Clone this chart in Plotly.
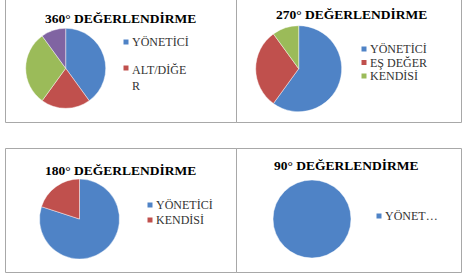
import plotly.graph_objects as go

W, H = 466, 274

# ---- data ----
titles = ["360° DEĞERLENDİRME", "270° DEĞERLENDİRME", "180° DEĞERLENDİRME", "90° DEĞERLENDİRME"]

labels_360 = ["YÖNETİCİ", "ALT/DİĞER", "EŞ DEĞER", "KENDİSİ"]
values_360 = [40, 20, 30, 10]
labels_270 = ["YÖNETİCİ", "EŞ DEĞER", "KENDİSİ"]
values_270 = [60, 30, 10]
labels_180 = ["YÖNETİCİ", "KENDİSİ"]
values_180 = [80, 20]
labels_90 = ["YÖNETİCİ"]
values_90 = [100]

# legend texts as displayed (truncated like the original)
legend_360 = ["YÖNETİCİ", "ALT/DİĞE<br>R"]
legend_270 = ["YÖNETİCİ", "EŞ DEĞER", "KENDİSİ"]
legend_180 = ["YÖNETİCİ", "KENDİSİ"]
legend_90 = ["YÖNET…"]

# ---- style ----
BLUE, RED, GREEN, PURPLE = "#4F83C6", "#C0504D", "#9BBB59", "#8064A2"
palette = [BLUE, RED, GREEN, PURPLE]
SERIF = "Liberation Serif"

panels = [
    dict(labels=labels_360, values=values_360, legend=legend_360,
         box=(5.5, -2, 236.5, 122.5), center=(65.7, 68.3), r=40,
         title_xy=(121, 19), leg_x=126, leg_y=[42, 68]),
    dict(labels=labels_270, values=values_270, legend=legend_270,
         box=(236.5, -2, 461.5, 122.5), center=(298.7, 68.7), r=43,
         title_xy=(351, 15), leg_x=364, leg_y=[49, 62.5, 76]),
    dict(labels=labels_180, values=values_180, legend=legend_180,
         box=(5.5, 148.5, 236.5, 272.5), center=(79.5, 219), r=40,
         title_xy=(121, 170), leg_x=150, leg_y=[205, 220]),
    dict(labels=labels_90, values=values_90, legend=legend_90,
         box=(236.5, 148.5, 461.5, 272.5), center=(312, 219), r=39,
         title_xy=(346, 165), leg_x=379, leg_y=[216]),
]

def px(x):
    return x / W

def py(y):
    return 1 - y / H

fig = go.Figure()
shapes = []
annotations = []

for i, p in enumerate(panels):
    cx, cy = p["center"]
    r = p["r"]
    n = len(p["labels"])
    fig.add_trace(go.Pie(
        labels=p["labels"], values=p["values"],
        domain=dict(x=[px(cx - r), px(cx + r)], y=[py(cy + r), py(cy - r)]),
        sort=False, direction="clockwise", rotation=0,
        textinfo="none", hoverinfo="label+value",
        marker=dict(colors=palette[:n], line=dict(color="rgba(255,255,255,0.55)", width=0.8)),
        showlegend=False,
    ))
    x0, y0, x1, y1 = p["box"]
    shapes.append(dict(type="rect", xref="paper", yref="paper",
                       x0=px(x0), x1=px(x1), y0=py(y1), y1=py(y0),
                       line=dict(color="#A8A8A8", width=1), fillcolor="rgba(0,0,0,0)", layer="below"))
    tx, ty = p["title_xy"]
    annotations.append(dict(text="<b>" + titles[i] + "</b>", x=px(tx), y=py(ty),
                            xref="paper", yref="paper", showarrow=False,
                            xanchor="center", yanchor="middle",
                            font=dict(family=SERIF, size=13.5, color="#000000")))
    for j, (lab, ly) in enumerate(zip(p["legend"], p["leg_y"])):
        lx = p["leg_x"]
        s = 2.5
        shapes.append(dict(type="rect", xref="paper", yref="paper",
                           x0=px(lx - s), x1=px(lx + s), y0=py(ly + s), y1=py(ly - s),
                           line=dict(width=0), fillcolor=palette[j]))
        multiline = "<br>" in lab
        annotations.append(dict(text=lab, x=px(lx + 4), y=py(ly - 7.5) if multiline else py(ly),
                                xref="paper", yref="paper", showarrow=False,
                                xanchor="left", yanchor="top" if multiline else "middle",
                                align="left",
                                font=dict(family=SERIF, size=12, color="#333333")))

fig.update_layout(
    width=W, height=H,
    margin=dict(l=0, r=0, t=0, b=0),
    paper_bgcolor="white", plot_bgcolor="white",
    font=dict(family=SERIF),
    shapes=shapes, annotations=annotations,
    showlegend=False,
)

fig.write_html("out.html")
